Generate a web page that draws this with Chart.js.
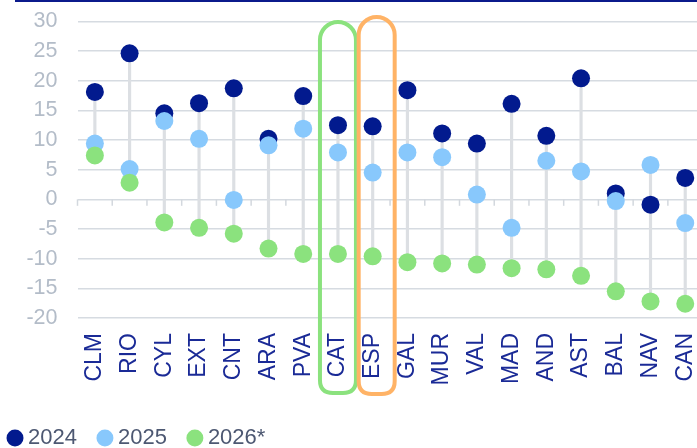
<!DOCTYPE html>
<html><head><meta charset="utf-8">
<script src="https://cdn.jsdelivr.net/npm/chart.js@4"></script>
<style>html,body{margin:0;padding:0;background:#fff}#wrap{width:697px;height:448px;position:relative}</style>
</head><body><div id="wrap"><canvas id="c" width="697" height="448"></canvas></div>
<script>
const categories = ['CLM','RIO','CYL','EXT','CNT','ARA','PVA','CAT','ESP','GAL','MUR','VAL','MAD','AND','AST','BAL','NAV','CAN'];
const values2024 = [18.1,24.6,14.5,16.2,18.7,10.2,17.4,12.5,12.3,18.4,11.1,9.4,16.1,10.7,20.4,1.0,-0.9,3.6];
const values2025 = [9.4,5.1,13.2,10.2,-0.1,9.1,11.9,7.9,4.5,7.9,7.1,0.8,-4.8,6.5,4.7,-0.3,5.8,-4.0];
const values2026 = [7.4,2.8,-3.9,-4.8,-5.8,-8.3,-9.2,-9.2,-9.6,-10.6,-10.8,-11.0,-11.6,-11.8,-12.9,-15.5,-17.2,-17.6];
const yMin = -20, yMax = 30, yStep = 5;
const seriesNames = ['2024','2025','2026*'];
const highlighted = ['CAT','ESP'];

const COLORS = ['#021a8e','#88c8fc','#8be27e'];
const HL_COLORS = ['#8be27e','#ffb366'];
const FONT = 'Liberation Sans, Arial, sans-serif';
const OVERHANG = 5.6;

const stems = categories.map((_, i) => {
  const v = [values2024[i], values2025[i], values2026[i]];
  return [Math.min(...v), Math.max(...v)];
});

function pointDs(label, data, color, order) {
  return {
    type: 'line', label, data, order,
    showLine: false,
    backgroundColor: color, borderColor: color,
    pointBackgroundColor: color, pointBorderColor: color,
    pointBorderWidth: 0, pointRadius: 9, pointHoverRadius: 9,
    pointStyle: 'circle'
  };
}

const decor = {
  id: 'decor',
  afterLayout(chart) {
    chart.legend.left = -13;
    chart.legend.top = 401;
    const x = chart.scales.x;
    x.right += OVERHANG; x.width += OVERHANG; x.configure();
    chart.chartArea.right += OVERHANG; chart.chartArea.width += OVERHANG;
  },
  beforeDatasetsDraw(chart) {
    const {ctx, scales: {x, y}} = chart;
    const step = x.getPixelForValue(1) - x.getPixelForValue(0);
    const y0 = y.getPixelForValue(0);
    ctx.save();
    ctx.strokeStyle = '#d3d8de';
    ctx.lineWidth = 1.5;
    for (let i = 0; i <= categories.length; i++) {
      const bx = x.getPixelForValue(i) - step / 2;
      ctx.beginPath();
      ctx.moveTo(bx, y0);
      ctx.lineTo(bx, y0 + 6.5);
      ctx.stroke();
    }
    ctx.restore();
  },
  afterDraw(chart) {
    const {ctx, scales: {x}, chartArea} = chart;
    ctx.save();
    ctx.fillStyle = '#0b1a8c';
    ctx.fillRect(15, 0, chart.width - 15, 2);
    const specs = [
      {cat: highlighted[0], dx: 0, top: chartArea.top + 0.7, bottom: chartArea.bottom + 75},
      {cat: highlighted[1], dx: 4, top: chartArea.top - 4.3, bottom: chartArea.bottom + 76}
    ];
    specs.forEach((s, k) => {
      const cx = x.getPixelForValue(categories.indexOf(s.cat)) + s.dx;
      const hw = 18, r2 = 13;
      const l = cx - hw, r = cx + hw, t = s.top, b = s.bottom;
      ctx.beginPath();
      ctx.moveTo(l, b - r2);
      ctx.lineTo(l, t + hw);
      ctx.arc(cx, t + hw, hw, Math.PI, 0, false);
      ctx.lineTo(r, b - r2);
      ctx.quadraticCurveTo(r, b, r - r2, b);
      ctx.lineTo(l + r2, b);
      ctx.quadraticCurveTo(l, b, l, b - r2);
      ctx.closePath();
      ctx.strokeStyle = HL_COLORS[k];
      ctx.lineWidth = 4;
      ctx.stroke();
    });
    ctx.restore();
  }
};

new Chart(document.getElementById('c'), {
  data: {
    labels: categories,
    datasets: [
      pointDs(seriesNames[0], values2024, COLORS[0], 2),
      pointDs(seriesNames[1], values2025, COLORS[1], 1),
      pointDs(seriesNames[2], values2026, COLORS[2], 0),
      {type: 'bar', label: 'stem', data: stems, order: 3, backgroundColor: '#dcdfe3', borderWidth: 0, barThickness: 2.5, borderSkipped: false}
    ]
  },
  options: {
    responsive: false, animation: false,
    events: [],
    layout: {autoPadding: false, padding: {top: 21.3, right: 0, left: 0, bottom: 0}},
    scales: {
      x: {
        offset: true,
        grid: {display: false, drawTicks: false},
        border: {display: false},
        ticks: {minRotation: 90, maxRotation: 90, padding: 15, autoSkip: false,
          color: '#1a2a96', font: {family: FONT, size: 23}},
        afterFit(s) { s.height = 72; s.paddingLeft = 0; s.paddingRight = 0; }
      },
      y: {
        min: yMin, max: yMax,
        grid: {color: '#d6dbe1', lineWidth: 1.5, drawTicks: false},
        border: {display: false},
        ticks: {stepSize: yStep, padding: 20, color: '#b3bcc8', font: {family: FONT, size: 21.5}},
        afterFit(s) { s.width = 77.5; s.paddingTop = 0; s.paddingBottom = 0; }
      }
    },
    plugins: {
      tooltip: {enabled: false},
      legend: {
        position: 'bottom', align: 'start',
        labels: {
          usePointStyle: true, boxWidth: 4, boxHeight: 12, padding: 26,
          color: '#4d5872', font: {family: FONT, size: 22},
          filter: (item) => item.text !== 'stem',
          sort: (a, b) => a.datasetIndex - b.datasetIndex
        }
      }
    }
  },
  plugins: [decor]
});
</script>
</body></html>
